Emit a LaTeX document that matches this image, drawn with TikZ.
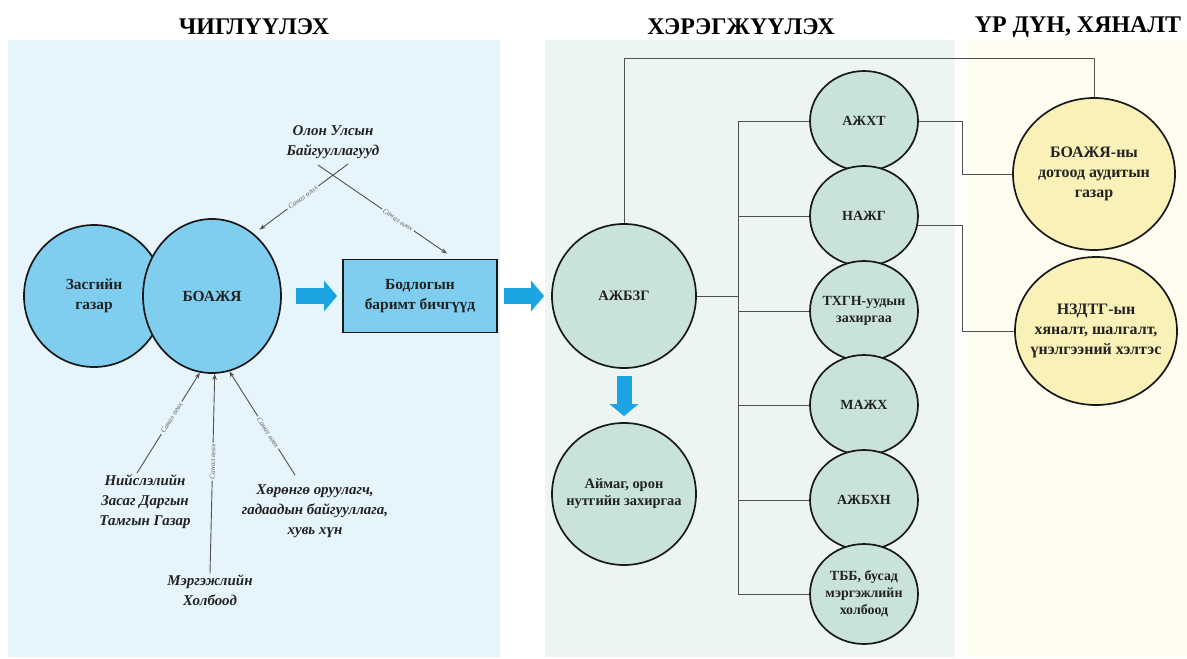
\documentclass[tikz,border=0pt]{standalone}
\usepackage{fontspec}
\setmainfont{Liberation Serif}
\usetikzlibrary{shapes.geometric,arrows.meta,calc}
\definecolor{panelblue}{HTML}{E6F4FC}
\definecolor{panelgreen}{HTML}{EDF5F2}
\definecolor{panelyellow}{HTML}{FFFDF0}
\definecolor{circblue}{HTML}{7FCDEF}
\definecolor{arrowblue}{HTML}{1AA5E2}
\definecolor{circgreen}{HTML}{C9E3D9}
\definecolor{circyellow}{HTML}{FAF1B8}
\definecolor{linegray}{HTML}{505050}
\definecolor{inkc}{HTML}{222222}
\newcommand{\sanal}{Санал өгөх}
\tikzset{
  titlest/.style={font=\fontsize{24}{28}\selectfont\bfseries, text=black},
  blc/.style={ellipse, draw=black!90, line width=1.7bp, fill=circblue, inner sep=0pt},
  gc/.style={blc, fill=circgreen},
  yc/.style={blc, fill=circyellow},
  ltxt/.style={align=center, inner sep=0pt, text=inkc, font=\fontsize{15.5}{20}\selectfont\bfseries},
  mtxt/.style={ltxt, font=\fontsize{14.5}{17}\selectfont\bfseries},
  ctxt/.style={ltxt, font=\fontsize{14}{17}\selectfont\bfseries},
  ytxt/.style={ltxt, font=\fontsize{16}{20}\selectfont\bfseries},
  boxst/.style={rectangle, draw=black!90, line width=1.8bp, fill=circblue, align=center, text=inkc,
    font=\fontsize{15.5}{20}\selectfont\bfseries},
  itl/.style={align=center, inner sep=1bp, text=inkc, font=\fontsize{15}{20}\selectfont\bfseries\itshape},
  conn/.style={draw=linegray, line width=0.9bp},
  arr/.style={conn, -{Stealth[length=6bp,width=4.5bp]}},
  lab/.style={sloped, fill=panelblue, inner sep=1.5bp, text=black!60, font=\fontsize{7.5}{8}\selectfont\itshape},
  big/.style={draw=arrowblue, line width=16bp, -{Triangle[length=13bp,width=30bp]}},
}
\begin{document}
\begin{tikzpicture}[x=1bp,y=-1bp]
\useasboundingbox (0,0) rectangle (1187,659);
% panels
\fill[panelblue] (8,40) rectangle (500,657);
\fill[panelgreen] (545,40) rectangle (955,657);
\fill[panelyellow] (967,40) rectangle (1187,657);
% titles
\node[titlest] (t1) at (254,27) {ЧИГЛҮҮЛЭХ};
\node[titlest] (t2) at (741,27) {ХЭРЭГЖҮҮЛЭХ};
\node[titlest] (t3) at (1078,27) {ҮР ДҮН, ХЯНАЛТ};

% left part
\node[blc, minimum width=140bp, minimum height=142bp,
  label={[ltxt]center:{Засгийн\\газар}}] (zasag) at (94,296) {};
\node[blc, minimum width=138bp, minimum height=154bp,
  label={[ltxt]center:{БОАЖЯ}}] (boazhya) at (212,296) {};
\node[boxst, minimum width=154bp, minimum height=73bp] (box) at (420,296) {Бодлогын\\баримт бичгүүд};

\node[itl] (olon) at (333,142) {Олон Улсын\\Байгууллагууд};
\node[itl] (nzd) at (145,502) {Нийслэлийн\\Засаг Даргын\\Тамгын Газар};
\node[itl] (merg) at (210,590) {Мэргэжлийн\\Холбоод};
\node[itl] (hor) at (315,511) {Хөрөнгө оруулагч,\\гадаадын байгууллага,\\хувь хүн};

\coordinate (oA) at (348,164);
\coordinate (oB) at (318,165);
\coordinate (s1) at (137,473);
\coordinate (s3) at (295,475);
\draw[arr, shorten >=7bp] (oA) -- node[lab, pos=0.48]{\sanal} (boazhya.56);
\draw[arr] (oB) -- node[lab, pos=0.62]{\sanal} ($(box.north)+(27,-5)$);
\draw[arr] (s1) -- node[lab, pos=0.55]{\sanal} (boazhya.261);
\draw[arr] (merg.north) -- node[lab, pos=0.56]{\sanal} (boazhya.272);
\draw[arr] (s3) -- node[lab, pos=0.41]{\sanal} (boazhya.283);

% middle part
\node[gc, minimum width=144bp, minimum height=144bp,
  label={[mtxt]center:{АЖБЗГ}}] (azbzg) at (624,296) {};
\node[gc, minimum width=144bp, minimum height=142bp,
  label={[mtxt]center:{Аймаг, орон\\нутгийн захиргаа}}] (aimag) at (624,494) {};

\node[gc, minimum width=108bp, minimum height=100bp, label={[ctxt]center:{АЖХТ}}] (c1) at (864,121) {};
\node[gc, minimum width=108bp, minimum height=100bp, label={[ctxt]center:{НАЖГ}}] (c2) at (864,216) {};
\node[gc, minimum width=108bp, minimum height=100bp, label={[ctxt]center:{ТХГН-уудын\\захиргаа}}] (c3) at (864,311) {};
\node[gc, minimum width=108bp, minimum height=100bp, label={[ctxt]center:{МАЖХ}}] (c4) at (864,405) {};
\node[gc, minimum width=108bp, minimum height=100bp, label={[ctxt]center:{АЖБХН}}] (c5) at (864,500) {};
\node[gc, minimum width=108bp, minimum height=100bp, label={[ctxt]center:{ТББ, бусад\\мэргэжлийн\\холбоод}}] (c6) at (864,594) {};

% right part
\node[yc, minimum width=162bp, minimum height=152bp,
  label={[ytxt]center:{БОАЖЯ-ны\\дотоод аудитын\\газар}}] (yel1) at (1094,174) {};
\node[yc, minimum width=162bp, minimum height=148bp,
  label={[ytxt]center:{НЗДТГ-ын\\хяналт, шалгалт,\\үнэлгээний хэлтэс}}] (yel2) at (1096,331) {};

% big arrows
\draw[big, shorten <=14bp, shorten >=5bp] (boazhya.east) -- (box.west);
\draw[big, shorten <=6bp, shorten >=7bp] (box.east) -- (azbzg.west);
\draw[big, line width=15bp, -{Triangle[length=12bp,width=28bp]}, shorten <=7bp, shorten >=6bp] (azbzg.south) -- (aimag.north);

% connectors
\coordinate (spine) at (738,0);
\coordinate (rsp) at (962,0);
\coordinate (topr) at (0,58);
\coordinate (c2r) at (c2.-10);
\draw[conn] (azbzg.north) |- (topr -| yel1.north) -- (yel1.north);
\draw[conn] (azbzg.east) -- (azbzg.east -| spine);
\draw[conn] (spine |- c1.west) -- (spine |- c6.west);
\foreach \i in {1,...,6} {\draw[conn] (spine |- c\i.west) -- (c\i.west);}
\draw[conn] (c1.east) -- (c1.east -| rsp) |- (yel1.west);
\draw[conn] (c2r) -- (c2r -| rsp) |- (yel2.west);
\end{tikzpicture}
\end{document}
